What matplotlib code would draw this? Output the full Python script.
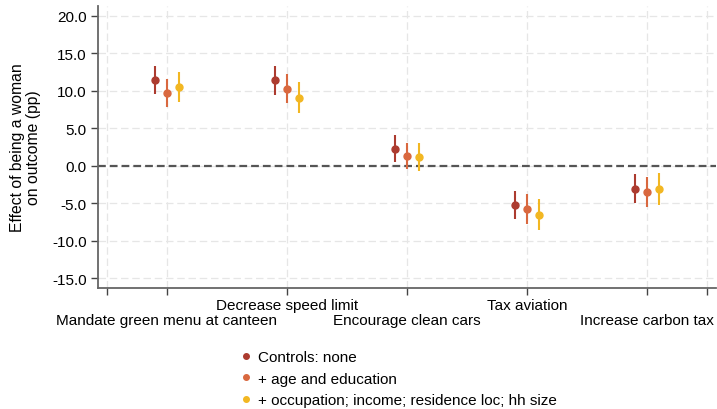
import matplotlib
matplotlib.use("Agg")
import matplotlib.pyplot as plt
from matplotlib.lines import Line2D
import numpy as np

plt.rcParams['font.family'] = ['Liberation Sans', 'DejaVu Sans']

categories = ["Mandate green menu at canteen", "Decrease speed limit",
              "Encourage clean cars", "Tax aviation", "Increase carbon tax"]
series_names = ["Controls: none", "+ age and education",
                "+ occupation; income; residence loc; hh size"]
colors = ["#ac3b2f", "#d9683f", "#f2b722"]

est_none = [11.5, 11.4, 2.3, -5.2, -3.1]
lo_none = [9.6, 9.45, 0.5, -7.15, -5.0]
hi_none = [13.3, 13.35, 4.1, -3.35, -1.1]

est_age = [9.75, 10.3, 1.35, -5.75, -3.45]
lo_age = [7.9, 8.35, -0.45, -7.7, -5.45]
hi_age = [11.55, 12.2, 3.1, -3.8, -1.45]

est_occ = [10.45, 9.1, 1.2, -6.5, -3.1]
lo_occ = [8.55, 7.0, -0.75, -8.6, -5.25]
hi_occ = [12.45, 11.15, 3.1, -4.45, -0.95]

y_ticks = [-15, -10, -5, 0, 5, 10, 15, 20]

ests = [est_none, est_age, est_occ]
los = [lo_none, lo_age, lo_occ]
his = [hi_none, hi_age, hi_occ]
offsets = [-0.1, 0.0, 0.1]

FS = 11

fig = plt.figure(figsize=(7.17, 4.10), dpi=100)
ax = fig.add_axes([98/717, 1-289/410, 618/717, 282/410])

x = np.arange(1, len(categories) + 1)
for k in range(3):
    e = np.array(ests[k]); lo = np.array(los[k]); hi = np.array(his[k])
    ax.errorbar(x + offsets[k], e, yerr=[e - lo, hi - e], fmt='o',
                color=colors[k], ecolor=colors[k], elinewidth=1.5,
                markersize=5, capsize=0, zorder=3)

ax.axhline(0, color='#555555', lw=1.6, linestyle=(0, (3.5, 1.8)), zorder=2)

ax.set_xlim(0.425, 5.575)
ax.set_ylim(-16.3, 21.3)
ax.set_yticks(y_ticks)
ax.set_yticklabels([f"{v:.1f}" for v in y_ticks])

# lower row labels (major ticks), upper row labels (minor ticks)
major_pos = [0.5] + [x[i] for i in range(0, 5, 2)] + [5.5]
major_lab = [""] + [categories[i] for i in range(0, 5, 2)] + [""]
minor_pos = [x[i] for i in range(1, 5, 2)]
minor_lab = [categories[i] for i in range(1, 5, 2)]
ax.set_xticks(major_pos)
ax.set_xticklabels(major_lab, fontsize=FS)
ax.set_xticks(minor_pos, minor=True)
ax.set_xticklabels(minor_lab, minor=True, fontsize=FS)

ax.grid(True, which='major', color='#e6e6e6', lw=0.9, linestyle=(0, (6, 3)), zorder=0)
ax.grid(True, which='minor', axis='x', color='#e6e6e6', lw=0.9, linestyle=(0, (6, 3)), zorder=0)
ax.set_axisbelow(True)

for s in ['top', 'right']:
    ax.spines[s].set_visible(False)
for s in ['left', 'bottom']:
    ax.spines[s].set_color('#666666')
    ax.spines[s].set_linewidth(1.3)
ax.tick_params(axis='both', which='both', colors='#444444', length=5, width=1,
               labelcolor='black', labelsize=FS)
ax.tick_params(axis='x', which='minor', pad=2)
ax.tick_params(axis='x', which='major', pad=13)
ax.tick_params(axis='y', pad=3)

ax.set_ylabel("Effect of being a woman\non outcome (pp)", fontsize=11.3, labelpad=8,
              linespacing=1.1)

handles = [Line2D([], [], marker='o', linestyle='none', color=c, markersize=4)
           for c in colors]
fig.legend(handles, series_names, loc='upper left',
           bbox_to_anchor=(240.4/717, 1 - 351/410), frameon=False,
           fontsize=FS, handlelength=0.75, handletextpad=0.4,
           labelspacing=0.5, borderpad=0, borderaxespad=0)

fig.savefig("out.png", dpi=100)
